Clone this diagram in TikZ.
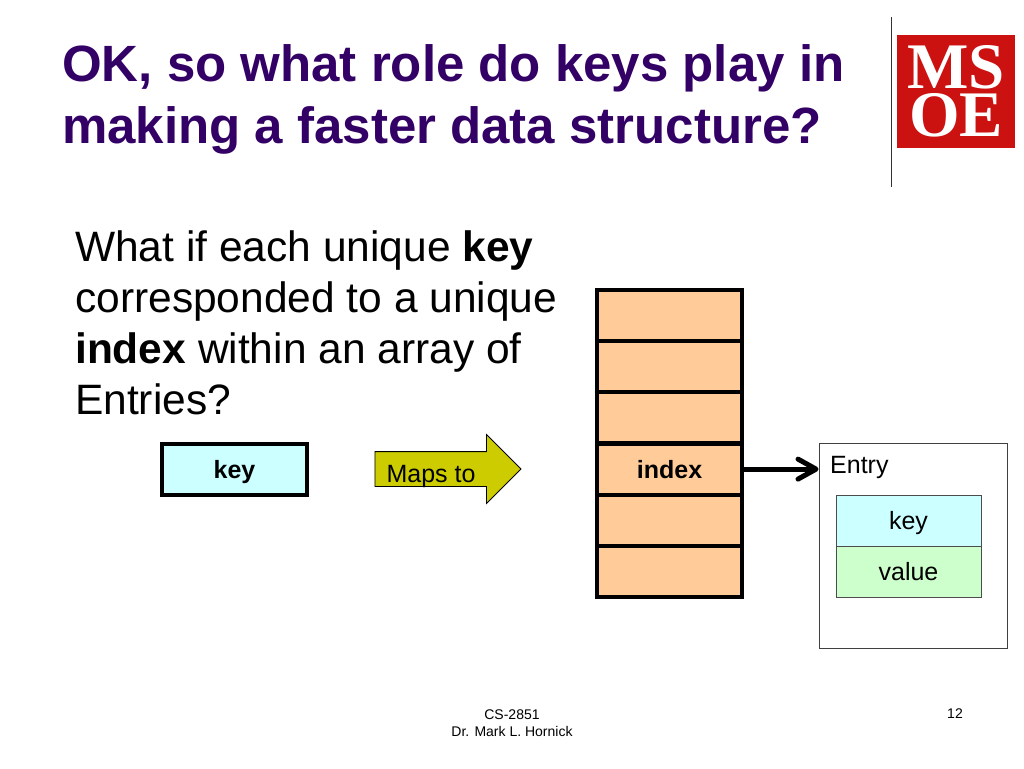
\documentclass[tikz,border=0pt]{standalone}
\usepackage{fontspec}
\setmainfont{Liberation Sans}
\newfontfamily\logofont{Liberation Serif}
\usetikzlibrary{arrows.meta,shapes.arrows}
\definecolor{titlepurple}{HTML}{330066}
\definecolor{logored}{HTML}{CC1111}
\definecolor{keycyan}{HTML}{CCFFFF}
\definecolor{valgreen}{HTML}{CCFFCC}
\definecolor{cellorange}{HTML}{FFCC99}
\definecolor{mapyellow}{HTML}{CCCC00}
\tikzset{every node/.style={rectangle,draw=none,inner sep=0pt}}
\tikzset{cell/.style={draw=black,fill=cellorange,line width=4.2pt,minimum width=145pt,minimum height=51.2pt,text height=18pt,text depth=0pt,font=\fontsize{25}{30}\selectfont\bfseries}}
\tikzset{field/.style={draw=black!70,line width=1pt,minimum width=145pt,minimum height=51pt,text height=18pt,text depth=0pt,font=\fontsize{25}{30}\selectfont}}
\tikzset{small/.style={font=\fontsize{14}{17}\selectfont,align=center}}
\begin{document}
\begin{tikzpicture}[x=1pt,y=-1pt]
      \useasboundingbox (0,0) rectangle (1024,768);
      % heading and logo
      \node[anchor=north west,align=left,text=titlepurple,font=\fontsize{51}{62}\selectfont\bfseries] (title) at (62,44) {OK, so what role do keys play in\\making a faster data structure?};
      \draw[line width=1.5pt,black!80] (891.5,17) coordinate (ruletop) -- (891.5,187) coordinate (rulebot);
      \node[fill=logored,minimum width=118pt,minimum height=113pt] (logo) at (956,91.5) {};
      \node[text=white,font=\fontsize{65}{65}\selectfont\logofont\bfseries] (ms) at (956,67) {MS};
      \node[text=white,font=\fontsize{65}{65}\selectfont\logofont\bfseries] (oe) at (956,115.5) {OE};
      % question
      \node[anchor=north west,align=left,font=\fontsize{42.5}{51}\selectfont] (question) at (75,230) {What if each unique \textbf{key}\\corresponded to a unique\\\textbf{index} within an array of\\Entries?};
      % key and arrow
      \node[cell,fill=keycyan] (key) at (234.5,469.5) {key};
      \node[single arrow,draw=black,fill=mapyellow,line width=.8pt,minimum height=146pt,minimum width=68pt,single arrow head extend=17pt,single arrow head indent=0pt,anchor=tip] (maps) at (521.5,469) {\vrule height17pt depth17pt width0pt};
      \node[font=\fontsize{25}{30}\selectfont] (mapstext) at (431,476) {Maps to};
      % array
      \node[cell] (c0) at (669.5,315.5) {};
      \node[cell] (c1) at (669.5,366.7) {};
      \node[cell] (c2) at (669.5,417.9) {};
      \node[cell] (index) at (669.5,469.1) {index};
      \node[cell] (c4) at (669.5,520.3) {};
      \node[cell] (c5) at (669.5,571.5) {};
      % entry
      \node[draw=black!75,line width=1pt,minimum width=188pt,minimum height=205pt] (entry) at (913,545.5) {};
      \node[anchor=west,font=\fontsize{25}{30}\selectfont] (entrytext) at (830,467) {Entry};
      \node[field,fill=keycyan] (ekey) at (908.5,520.5) {key};
      \node[field,fill=valgreen] (evalue) at (908.5,571.5) {value};
        \draw[-{Straight Barb[round,length=18pt,width=20pt]},line width=5pt] (index.east) -- (index.east -| entry.west);
      % footer
      \node[small] (course) at (512,723.5) {CS-2851\\Dr. Mark L. Hornick};
      \node[small] (page) at (955,714) {12};
    \end{tikzpicture}
\end{document}
